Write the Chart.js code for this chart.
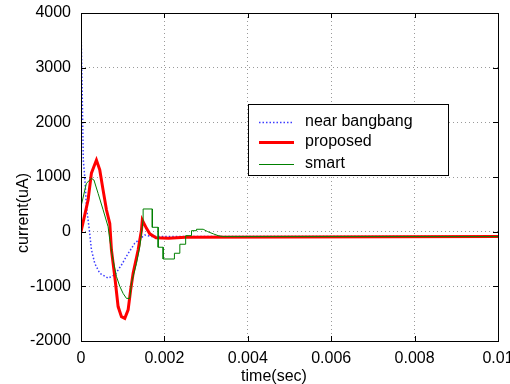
<!DOCTYPE html>
<html>
<head>
<meta charset="utf-8">
<script src="https://cdn.jsdelivr.net/npm/chart.js@4"></script>
<style>
  html, body { margin: 0; padding: 0; background: #fff; }
  #wrap { width: 510px; height: 384px; }
</style>
</head>
<body>
<div id="wrap"><canvas id="chart" width="510" height="384"></canvas></div>
<script>
// values
const xTicks = [0, 0.002, 0.004, 0.006, 0.008, 0.01];
const yTicks = [-2000, -1000, 0, 1000, 2000, 3000, 4000];

const bangTime = [0, 0.00003, 0.000055, 0.00009, 0.00013, 0.0002, 0.00025, 0.00033, 0.00045, 0.00065, 0.00081, 0.00097, 0.00113, 0.00129, 0.00153, 0.0017, 0.002, 0.003, 0.01];
const bangCurrent = [3800, 2500, 1310, 1000, 460, 30, -330, -580, -760, -850, -790, -610, -400, -210, -60, -90, -90, -90, -90];

const propTime = [0, 0.00017, 0.00025, 0.00037, 0.00045, 0.00053, 0.00061, 0.00069, 0.00073, 0.00081, 0.00089, 0.00097, 0.00105, 0.00113, 0.00119, 0.00125, 0.00137, 0.00145, 0.00147, 0.00157, 0.00165, 0.0018, 0.0021, 0.0025, 0.01];
const propCurrent = [0, 580, 1070, 1310, 1130, 760, 400, 150, -335, -820, -1370, -1555, -1585, -1430, -1070, -760, -335, 30, 210, 60, -40, -110, -120, -100, -90];

const smartTime = [0, 0.00013, 0.00025, 0.00031, 0.00041, 0.00053, 0.00065, 0.00069, 0.00077, 0.00085, 0.00093, 0.00101, 0.00109, 0.00117, 0.00121, 0.00129, 0.00133, 0.00141, 0.00149, 0.00149, 0.00171, 0.00171, 0.00185, 0.00185, 0.00197, 0.00197, 0.00224, 0.00224, 0.00237, 0.00237, 0.00251, 0.00251, 0.00265, 0.00265, 0.00277, 0.00277, 0.00293, 0.00304, 0.00318, 0.00329, 0.0034, 0.01];
const smartCurrent = [460, 885, 975, 945, 700, 400, 90, -150, -520, -820, -1000, -1130, -1220, -1220, -940, -700, -580, -275, 215, 415, 415, 80, 80, -285, -285, -500, -500, -395, -395, -230, -230, -73, -73, 18, 18, 44, 44, 0, -42, -73, -90, -90];

const seriesNames = ['near bangbang', 'proposed', 'smart'];
const xTitle = 'time(sec)';
const yTitle = 'current(uA)';

const FONT = "'Liberation Sans', Arial, sans-serif";

function toPoints(times, values) {
    return times.map((t, i) => ({ x: t, y: values[i] }));
}

// black box round the plot with small inward ticks
const framePlugin = {
    id: 'frame',
    afterDatasetsDraw(chart) {
        const { ctx, chartArea: a, scales } = chart;
        ctx.save();
        ctx.strokeStyle = '#000';
        ctx.lineWidth = 1;
        ctx.strokeRect(a.left + 0.5, a.top + 0.5, a.right - a.left, a.bottom - a.top);
        ctx.beginPath();
        scales.x.ticks.forEach(t => {
            const px = Math.round(scales.x.getPixelForValue(t.value)) + 0.5;
            ctx.moveTo(px, a.bottom); ctx.lineTo(px, a.bottom - 5);
            ctx.moveTo(px, a.top); ctx.lineTo(px, a.top + 5);
        });
        scales.y.ticks.forEach(t => {
            const py = Math.round(scales.y.getPixelForValue(t.value)) + 0.5;
            ctx.moveTo(a.left, py); ctx.lineTo(a.left + 5, py);
            ctx.moveTo(a.right, py); ctx.lineTo(a.right - 5, py);
        });
        ctx.stroke();
        ctx.restore();
    }
};

// legend box inside the plot, and the two axis titles
const legendPlugin = {
    id: 'boxLegend',
    afterDraw(chart) {
        const { ctx, chartArea: a } = chart;
        const left = a.left + 167, top = a.top + 91, w = 200, h = 71;
        ctx.save();
        ctx.fillStyle = '#fff';
        ctx.fillRect(left, top, w, h);
        ctx.strokeStyle = '#000';
        ctx.lineWidth = 1;
        ctx.strokeRect(left + 0.5, top + 0.5, w, h);
        ctx.font = '16px ' + FONT;
        ctx.textBaseline = 'middle';
        ctx.textAlign = 'left';
        const rows = [top + 17.5, top + 38, top + 60];
        chart.data.datasets.forEach((ds, i) => {
            const y = Math.round(rows[i]) + 0.5;
            ctx.beginPath();
            ctx.strokeStyle = ds.borderColor;
            ctx.lineWidth = ds.borderWidth;
            ctx.setLineDash(ds.borderDash || []);
            ctx.moveTo(left + 11, y);
            ctx.lineTo(left + 46, y);
            ctx.stroke();
            ctx.setLineDash([]);
            ctx.fillStyle = '#000';
            ctx.fillText(ds.label, left + 57, rows[i]);
        });

        ctx.fillStyle = '#000';
        ctx.textAlign = 'center';
        ctx.textBaseline = 'alphabetic';
        ctx.fillText(xTitle, 274, 381);
        ctx.translate(28, 213);
        ctx.rotate(-Math.PI / 2);
        ctx.fillText(yTitle, 0, 0);
        ctx.restore();
    }
};

new Chart(document.getElementById('chart'), {
    type: 'line',
    data: {
        datasets: [
            {
                label: seriesNames[0],
                data: toPoints(bangTime, bangCurrent),
                borderColor: 'rgb(60,60,255)',
                borderWidth: 1.5,
                borderDash: [1.5, 2],
                order: 3
            },
            {
                label: seriesNames[1],
                data: toPoints(propTime, propCurrent),
                borderColor: 'rgb(255,0,0)',
                borderWidth: 3,
                order: 2
            },
            {
                label: seriesNames[2],
                data: toPoints(smartTime, smartCurrent),
                borderColor: 'rgb(0,128,0)',
                borderWidth: 1,
                order: 1
            }
        ]
    },
    options: {
        responsive: false,
        animation: false,
        devicePixelRatio: 1,
        layout: { padding: { top: 13, right: 12, left: 0, bottom: 0 } },
        elements: {
            point: { radius: 0 },
            line: { tension: 0, fill: false }
        },
        plugins: {
            legend: { display: false },
            tooltip: { enabled: false }
        },
        scales: {
            x: {
                type: 'linear',
                min: 0,
                max: 0.01,
                afterBuildTicks: s => { s.ticks = xTicks.map(v => ({ value: v })); },
                afterFit: s => { s.height = 43; s.paddingLeft = 0; s.paddingRight = 0; },
                ticks: {
                    padding: 8,
                    color: '#000',
                    maxRotation: 0,
                    autoSkip: false,
                    font: { family: FONT, size: 16 },
                    callback: v => String(Number(v.toFixed(3)))
                },
                grid: { color: '#9a9a9a', drawTicks: false },
                border: { display: false, dash: [1, 3] }
            },
            y: {
                type: 'linear',
                min: -2000,
                max: 4000,
                afterBuildTicks: s => { s.ticks = yTicks.map(v => ({ value: v })); },
                afterFit: s => { s.width = 81; s.paddingTop = 0; s.paddingBottom = 0; },
                ticks: {
                    padding: 10,
                    color: '#000',
                    autoSkip: false,
                    font: { family: FONT, size: 16 },
                    callback: v => String(v)
                },
                grid: { color: '#9a9a9a', drawTicks: false },
                border: { display: false, dash: [1, 3] }
            }
        }
    },
    plugins: [framePlugin, legendPlugin]
});
</script>
</body>
</html>
